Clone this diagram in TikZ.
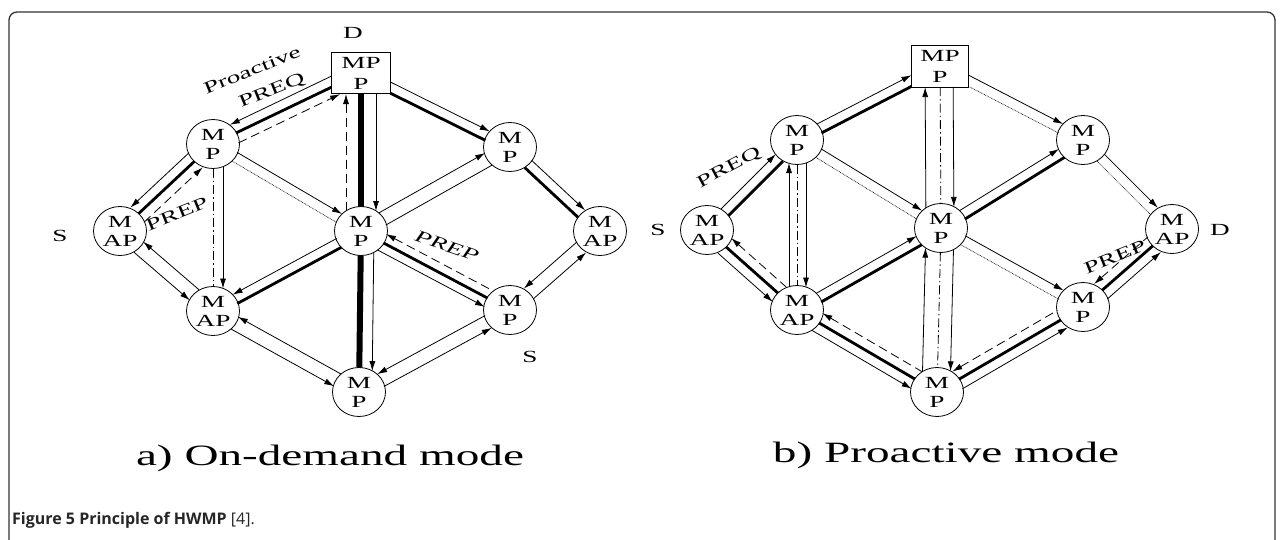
\documentclass[tikz,border=0pt]{standalone}
\usepackage{fontspec}
\setmainfont{Liberation Serif}
\newfontfamily\capfont{Open Sans}
\usetikzlibrary{calc,arrows.meta,shapes.geometric}

% wide lettering used throughout the figure
\newcommand\hs[1]{\scalebox{1.6}[1]{#1}}

% one parallel strand between two nodes:
% [style]{from}{to}{offset}{shorten at from}{shorten at to}
\newcommand\lk[6][]{%
  \draw[thn, shorten <=#5pt, shorten >=#6pt, #1]
    ($(#2)!#4pt!90:(#3)$) -- ($(#3)!#4pt!-90:(#2)$);}

\tikzset{
  >={Latex[length=10pt,width=6pt]},
  thn/.style={line width=0.8pt},
  thk/.style={line width=2.8pt},
  xthk/.style={line width=6pt},
  dsh/.style={dash pattern=on 9pt off 5pt},
  ddot/.style={dash pattern=on 9pt off 3pt on 1.5pt off 3pt},
  dotl/.style={line width=0.6pt, dash pattern=on 0.8pt off 0.8pt},
  mpc/.style={ellipse, draw, line width=0.8pt, fill=white, minimum width=53pt,
    minimum height=49pt, inner sep=0pt, align=center,
    font=\fontsize{17}{19}\selectfont},
  mpbox/.style={rectangle, draw, line width=0.8pt, fill=white, minimum width=59pt,
    minimum height=41pt, inner sep=0pt, align=center,
    font=\fontsize{17}{19}\selectfont},
  lbl/.style={inner sep=0pt, font=\fontsize{17}{19}\selectfont},
  ttl/.style={inner sep=0pt, anchor=base, font=\fontsize{29.5}{32}\selectfont},
}

\begin{document}
\begin{tikzpicture}[x=1pt, y=-1pt]
\useasboundingbox (0,0) rectangle (1284,539);

% frame
\draw[line width=1.3pt, black!80, rounded corners=8pt]
  (9,600) -- (9,12) -- (1275,12) -- (1275,600);

% ---------------- a) on-demand mode ----------------
\node[mpbox] (aD)  at (361,73)  {\hs{MP}\\[2pt]\hs{P}};
\node[mpc]   (aUL) at (213,144) {\hs{M}\\\hs{P}};
\node[mpc]   (aUR) at (510,147) {\hs{M}\\\hs{P}};
\node[mpc]   (aL)  at (120,231) {\hs{M}\\\hs{AP}};
\node[mpc]   (aC)  at (361,231) {\hs{M}\\\hs{P}};
\node[mpc]   (aR)  at (600,231) {\hs{M}\\\hs{AP}};
\node[mpc]   (aLL) at (213,311) {\hs{M}\\\hs{AP}};
\node[mpc]   (aLR) at (510,310) {\hs{M}\\\hs{P}};
\node[mpc]   (aB)  at (359,392) {\hs{M}\\\hs{P}};

\lk[<-]{aUL}{aD}{10}{23.5}{28}
\lk[thk]{aUL}{aD}{0}{25.5}{33}
\lk[dsh,->]{aUL}{aD}{-10}{23.5}{28}

\lk[dsh,<-]{aD}{aC}{-15}{21}{20}
\lk[xthk]{aD}{aC}{0}{20.5}{24.5}
\lk[->]{aD}{aC}{15}{21}{20}

\lk[->]{aD}{aUR}{5}{31}{25}
\lk[thk]{aD}{aUR}{-5}{35}{25}

\lk[->]{aUR}{aR}{5}{25}{25}
\lk[thk]{aUR}{aR}{-5}{25}{25}

\lk[<-]{aL}{aUL}{10}{23.5}{23.5}
\lk[thk]{aL}{aUL}{0}{25.5}{25.5}
\lk[dsh,->]{aL}{aUL}{-10}{23.5}{23.5}

\lk[->]{aUL}{aC}{5}{25}{25}
\lk[dotl]{aUL}{aC}{-5}{25}{25}

\lk[ddot]{aUL}{aLL}{0}{24.5}{24.5}
\lk[->]{aUL}{aLL}{10}{22.5}{22.5}

\lk[<-]{aL}{aLL}{7}{24.5}{24.5}
\lk[->]{aL}{aLL}{-7}{24.5}{24.5}

\lk[<-]{aLL}{aC}{5}{25}{25}
\lk[thk]{aLL}{aC}{-5}{25}{25}

\lk[<-]{aLL}{aB}{7}{24.5}{24.5}
\lk[->]{aLL}{aB}{-7}{24.5}{24.5}

\lk[xthk]{aC}{aB}{0}{24.5}{24.5}
\lk[->]{aC}{aB}{13}{21}{21}

\lk[dsh,<-]{aC}{aLR}{9}{23.5}{23.5}
\lk[thk]{aC}{aLR}{0}{25.5}{25.5}
\lk[->]{aC}{aLR}{-9}{23.5}{23.5}

\lk[->]{aC}{aUR}{7}{24.5}{24.5}
\lk{aC}{aUR}{-7}{24.5}{24.5}

\lk[<-]{aLR}{aR}{7}{24.5}{24.5}
\lk[->]{aLR}{aR}{-7}{24.5}{24.5}

\lk[<-]{aB}{aLR}{7}{24.5}{24.5}
\lk[->]{aB}{aLR}{-7}{24.5}{24.5}

\node[lbl, rotate=22]  (aProa) at (252,70)  {\hs{Proactive}};
\node[lbl, rotate=22]  (aPreq) at (272,91)  {\hs{PREQ}};
\node[lbl, rotate=22]  (aPrep) at (177,214) {\hs{PREP}};
\node[lbl, rotate=-19] (aPrepI) at (447,246) {\hs{\itshape PREP}};
\node[lbl] (aDl)  at (353,33)  {\hs{D}};
\node[lbl] (aSl)  at (60,236)  {\hs{S}};
\node[lbl] (aSr)  at (530,357) {\hs{S}};

\node[ttl] (aT) at (330,465) {\hs{a) On-demand mode}};

% ---------------- b) proactive mode ----------------
\node[mpbox, minimum width=57pt, minimum height=42pt] (bD) at (940,66) {\hs{MP}\\[2pt]\hs{P}};
\node[mpc]   (bUL) at (797,140) {\hs{M}\\\hs{P}};
\node[mpc]   (bUR) at (1083,140) {\hs{M}\\\hs{P}};
\node[mpc]   (bL)  at (707,230) {\hs{M}\\\hs{AP}};
\node[mpc]   (bC)  at (941,228) {\hs{M}\\\hs{P}};
\node[mpc]   (bR)  at (1172,229) {\hs{M}\\\hs{AP}};
\node[mpc]   (bLL) at (797,310) {\hs{M}\\\hs{AP}};
\node[mpc]   (bLR) at (1083,307) {\hs{M}\\\hs{P}};
\node[mpc]   (bB)  at (937,392) {\hs{M}\\\hs{P}};

\lk[->]{bL}{bUL}{5}{25}{25}
\lk[thk]{bL}{bUL}{-5}{25}{25}

\lk[->]{bUL}{bD}{5}{25}{29.5}
\lk[thk]{bUL}{bD}{-5}{25}{34.5}

\lk[<-]{bD}{bC}{-15}{21}{20}
\lk[ddot]{bD}{bC}{0}{21}{24.5}
\lk[->]{bD}{bC}{13}{21}{21}

\lk[->]{bD}{bUR}{5}{29.5}{25}
\lk[dotl]{bD}{bUR}{-5}{34.5}{25}

\lk[->]{bUR}{bR}{5}{25}{25}
\lk[dotl]{bUR}{bR}{-5}{25}{25}

\lk[->]{bUL}{bC}{5}{25}{25}
\lk[dotl]{bUL}{bC}{-5}{25}{25}

\lk[<-]{bUL}{bLL}{-8}{23}{23}
\lk[ddot]{bUL}{bLL}{0}{24.5}{24.5}
\lk[->]{bUL}{bLL}{9}{22.5}{22.5}

\lk[dsh,<-]{bL}{bLL}{10}{23.5}{23.5}
\lk[thk]{bL}{bLL}{0}{25.5}{25.5}
\lk[->]{bL}{bLL}{-10}{23.5}{23.5}

\lk[->]{bLL}{bC}{5}{25}{25}
\lk[thk]{bLL}{bC}{-5}{25}{25}

\lk[dsh,<-]{bLL}{bB}{10}{23.5}{23.5}
\lk[thk]{bLL}{bB}{0}{25.5}{25.5}
\lk[->]{bLL}{bB}{-10}{23.5}{23.5}

\lk[<-]{bC}{bB}{-15}{20}{20}
\lk[ddot]{bC}{bB}{0}{24.5}{24.5}
\lk[->]{bC}{bB}{13}{21}{21}

\lk[->]{bC}{bUR}{5}{25}{25}
\lk[thk]{bC}{bUR}{-5}{25}{25}

\lk[->]{bC}{bLR}{5}{25}{25}
\lk[dotl]{bC}{bLR}{-5}{25}{25}

\lk[dsh,<-]{bB}{bLR}{10}{23.5}{23.5}
\lk[thk]{bB}{bLR}{0}{25.5}{25.5}
\lk[->]{bB}{bLR}{-10}{23.5}{23.5}

\lk[dsh,<-]{bLR}{bR}{10}{23.5}{23.5}
\lk[thk]{bLR}{bR}{0}{25.5}{25.5}
\lk[->]{bLR}{bR}{-10}{23.5}{23.5}

\node[lbl, rotate=28] (bPreq) at (729,168)  {\hs{PREQ}};
\node[lbl, rotate=22] (bPrep) at (1115,257) {\hs{PREP}};
\node[lbl] (bSl) at (658,230)  {\hs{S}};
\node[lbl] (bDl) at (1220,230) {\hs{D}};

\node[ttl] (bT) at (946,462) {\hs{b) Proactive mode}};

% caption
\node[anchor=base west, inner sep=0pt, font=\capfont\fontsize{16}{19}\selectfont, text=black!85]
  (cap) at (12,524) {\textbf{Figure 5 Principle of HWMP} [4].};
\end{tikzpicture}
\end{document}
